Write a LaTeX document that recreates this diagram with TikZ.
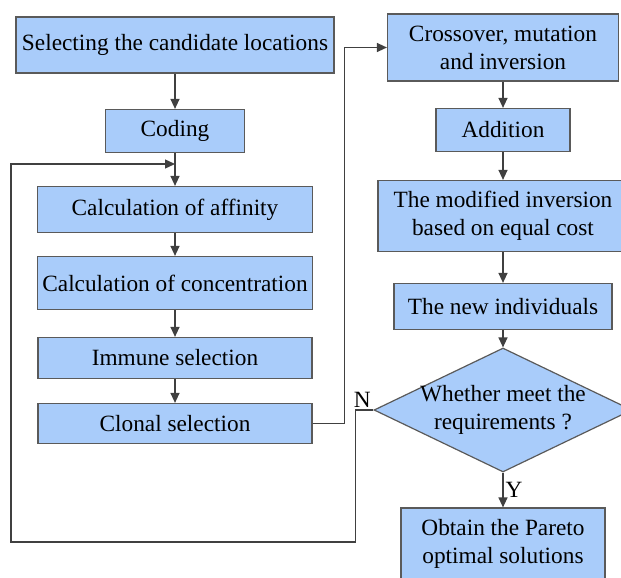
\documentclass[tikz,border=0pt]{standalone}
\usepackage{fontspec}
\setmainfont{Liberation Serif}
\usetikzlibrary{shapes.geometric,arrows.meta,positioning}
\definecolor{boxblue}{RGB}{169,204,250}
\definecolor{boxline}{RGB}{90,90,90}
\definecolor{arrline}{RGB}{64,64,64}

\begin{document}
\begin{tikzpicture}[x=1pt,y=-1pt,>={Triangle[length=10pt,width=9pt]},
  font=\fontsize{23.3}{28}\selectfont,
  stepbox/.style={draw=boxline,fill=boxblue,line width=1.2pt,inner sep=0pt},
  twoline/.style={align=center},
  decbox/.style={diamond,draw=boxline,fill=boxblue,line width=1.2pt,inner sep=0pt,
    minimum width=258pt,minimum height=124pt},
  flow/.style={draw=arrline,line width=1.3pt}]
\useasboundingbox (0,0) rectangle (621,578);
\clip (0,0) rectangle (621,578);

%left column
\node[stepbox,minimum width=318pt,minimum height=56pt] (sel) at (175,45) {Selecting the candidate locations};
\node[stepbox,minimum width=139pt,minimum height=43pt] (cod) at (175,131) {Coding};
\node[stepbox,minimum width=275pt,minimum height=46pt] (aff) at (175,209.5) {Calculation of affinity};
\node[stepbox,minimum width=275pt,minimum height=53pt] (con) at (175,283) {Calculation of concentration};
\node[stepbox,minimum width=274pt,minimum height=41pt] (imm) at (175,358) {Immune selection};
\node[stepbox,minimum width=274pt,minimum height=40pt] (clo) at (175,423.5) {Clonal selection};

%right column
\node[stepbox,twoline,minimum width=231pt,minimum height=67pt] (cro) at (503,47.5) {Crossover, mutation\\and inversion};
\node[stepbox,minimum width=134pt,minimum height=43pt] (add) at (503,130) {Addition};
\node[stepbox,twoline,minimum width=250pt,minimum height=71pt] (mod) at (503,216) {The modified inversion\\based on equal cost};
\node[stepbox,minimum width=218pt,minimum height=46pt] (new) at (503,306.5) {The new individuals};
\node[decbox,label={[twoline]center:Whether meet the\\requirements ?}] (dia) at (503,410) {};
\node[stepbox,twoline,minimum width=204pt,minimum height=72pt] (par) at (503,544) {Obtain the Pareto\\optimal solutions};

% feedback point
\coordinate (fb) at (175,164);
\coordinate (fbl) at (11,542);

%arrows
\draw[flow,->] (sel.south) -- (cod.north);
\draw[flow,->] (cod.south) -- (aff.north);
\draw[flow,->] (aff.south) -- (con.north);
\draw[flow,->] (con.south) -- (imm.north);
\draw[flow,->] (imm.south) -- (clo.north);
\draw[flow,->] (clo.east) -- ++(32,0) |- (cro.west);
\draw[flow,->] (cro.south) -- (add.north);
\draw[flow,->] (add.south) -- (mod.north);
\draw[flow,->] (mod.south) -- (new.north);
\draw[flow,->] (new.south) -- (dia.north);
\draw[flow,->] (dia.south) -- node[right,inner sep=2pt] (ylab) {Y} (par.north);
\draw[flow,->] (dia.west) -- ++(-18,0) |- (fbl) |- (fb);
\node[above left,inner sep=2.5pt] (nlab) at (dia.west) {N};

\end{tikzpicture}
\end{document}
